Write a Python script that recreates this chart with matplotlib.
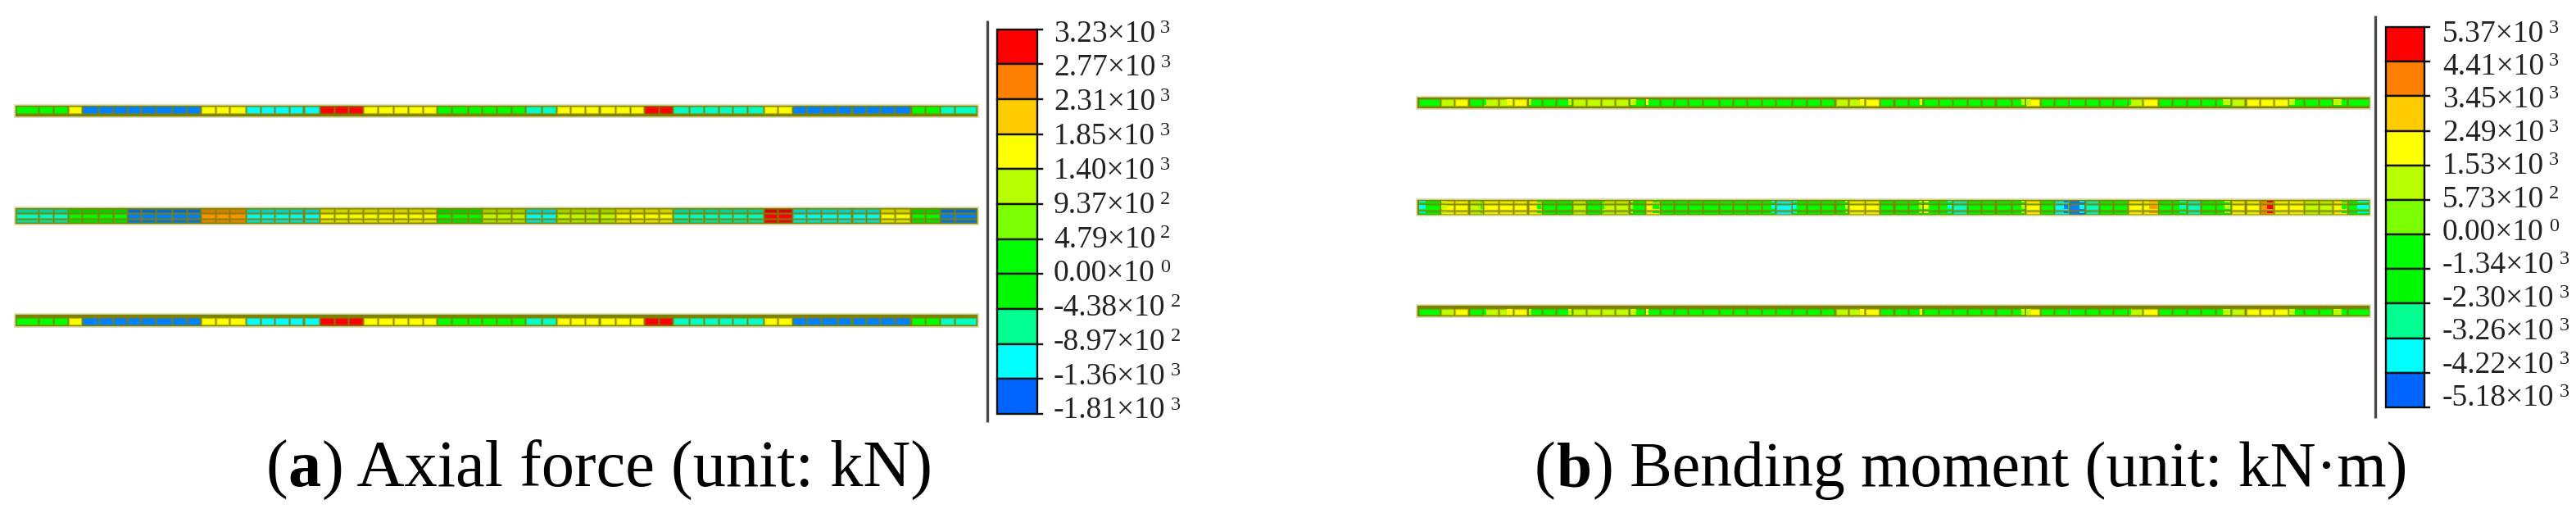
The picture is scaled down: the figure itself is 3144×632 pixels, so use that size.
import matplotlib
matplotlib.use("Agg")
import matplotlib.pyplot as plt
from matplotlib.patches import Rectangle
from matplotlib.colors import to_rgb

plt.rcParams['font.family'] = ['Liberation Serif', 'DejaVu Serif']

# ---------- data ----------
axial_labels = ["3.23×10", "2.77×10", "2.31×10", "1.85×10", "1.40×10", "9.37×10",
                "4.79×10", "0.00×10", "-4.38×10", "-8.97×10", "-1.36×10", "-1.81×10"]
axial_exps = ["3", "3", "3", "3", "3", "2", "2", "0", "2", "2", "3", "3"]
moment_labels = ["5.37×10", "4.41×10", "3.45×10", "2.49×10", "1.53×10", "5.73×10",
                 "0.00×10", "-1.34×10", "-2.30×10", "-3.26×10", "-4.22×10", "-5.18×10"]
moment_exps = ["3", "3", "3", "3", "3", "2", "0", "3", "3", "3", "3", "3"]
legend_colors = ["#ff0000", "#ff8000", "#ffcc00", "#ffff00", "#b8ff00", "#7cff00",
                 "#00ff00", "#00f800", "#00ff90", "#00ffff", "#0064ff"]

# bay lengths along the beams
axial_bays = [70,45,45,43,51,45,44,44,45,50,45,43,46,44,50,46,43,44,45,50,45,44,44,45,50,45,45,44,44,51,44,45,
              45,44,50,45,44,44,45,50,44,44,45,44,51,44,45,45,44,50,45,44,44,45,50,45,45,43,45,49,45,45,45,69]
moment_bays = [71,45,46,45,51,46,46,46,45,51,45,46,46,45,51,46,45,46,46,51,46,45,46,45,52,46,45,46,44,52,46,46,
               46,46,51,44,46,46,45,51,45,47,45,45,52,45,46,46,46,50,46,46,45,46,50,46,46,45,46,51,46,45,46,72]

# per-bay contour classes: B blue, C cyan, T spring green, G green, L lime, Y yellow, O orange, R red
axial_outer = ("GGGY" "BBBBBBBB" "YYY" "CCCCC" "RRR" "YYYYY" "GGGGGG" "TT" "YYYYYY" "RR"
               "TTTTTT" "YY" "BBBBBBBB" "GG" "TT")
axial_middle = ("TTT" "GGGG" "BBBBB" "OOO" "CCCCC" "YYYYYYYY" "GGG" "LLL" "CC" "LLLL" "YYYY"
                "TTTTTT" "RR" "CCCCCC" "YY" "GG" "BB")
moment_outer = ("GLYGLLYGGGLLLLGG" "GGGGGGGGGGGG" "LLYG"
                "GGGGGGGG" "GY" "GGGGGG" "LY" "GGGG" "GLYYY" "GGGGG")
moment_middle = ("GYYLYYYYGGLGLLGY" "GGGGGGG" "GCGGGG" "YYG"
                 "GGGGTGGGGYGCBTGG" "YYGGTGGYYOYYLLYG")
# bay index -> (side, class, share of the bay)
moment_outer_accents = {4: ("l", "G", .2), 5: ("r", "Y", .45), 7: ("l", "L", .25), 9: ("r", "L", .2),
                        14: ("l", "L", .45), 15: ("l", "Y", .2), 29: ("r", "Y", .3), 33: ("r", "Y", .2),
                        40: ("r", "L", .3), 41: ("l", "L", .35), 44: ("l", "C", .08), 48: ("l", "G", .2),
                        54: ("r", "L", .5), 59: ("l", "L", .4), 62: ("l", "L", .6)}
moment_middle_accents = {0: ("l", "C", .35), 1: ("l", "L", .5), 3: ("r", "G", .1), 7: ("r", "G", .3),
                         12: ("l", "G", .2), 14: ("l", "L", .2), 15: ("r", "G", .5), 23: ("r", "C", .3),
                         25: ("l", "C", .3), 28: ("r", "L", .2), 33: ("r", "L", .25), 34: ("l", "Y", .35),
                         35: ("r", "C", .35), 40: ("r", "L", .3), 43: ("r", "B", .3), 44: ("r", "C", .3),
                         49: ("r", "O", .55), 51: ("r", "T", .5), 54: ("r", "L", .4), 57: ("r", "R", .5),
                         62: ("r", "G", .4), 63: ("r", "C", .55)}
axial_title = ("(", "a", ") Axial force (unit: kN)")
moment_title = ("(", "b", ") Bending moment (unit: kN·m)")

assert len(axial_bays) == len(moment_bays) == 64
assert all(len(s) == 64 for s in (axial_outer, axial_middle, moment_outer, moment_middle))

# ---------- styles ----------
CELL = {"B": "#0080ff", "C": "#00ffff", "T": "#00ffc4", "G": "#00ff00", "L": "#c0ff00",
        "Y": "#ffff00", "O": "#ff9800", "R": "#ff0000"}
OLIVE = (0.50, 0.50, 0.0)
HALO = "#dcdca8"
TEXT = "#222222"

W, H = 3144, 632
fig = plt.figure(figsize=(W / 100, H / 100), dpi=100, facecolor="white")
ax = fig.add_axes([0, 0, 1, 1])
ax.set_xlim(0, W)
ax.set_ylim(H, 0)
ax.axis("off")


def shade(c, f):
    return tuple(v * f for v in to_rgb(c))


def mix(c, other, t):
    return tuple(a * (1 - t) + b * t for a, b in zip(to_rgb(c), other))


def beam(x0, x1, pad, unit, bays, y0, y1, rows, classes, accents):
    ax.add_patch(Rectangle((x0, y0), x1 - x0, y1 - y0, fc=OLIVE, ec=HALO, lw=1.2, zorder=1))
    x = x0 + pad
    for n, (bay, cls) in enumerate(zip(bays, classes)):
        w = bay * unit - 2.1
        for off, h, f in rows:
            col = shade(CELL[cls], f)
            ax.add_patch(Rectangle((x, y0 + off), w, h, fc=col, ec=mix(col, OLIVE, .5), lw=.9, zorder=2))
            if n in accents:
                side, c2, share = accents[n]
                aw = w * share
                ax_x = x if side == "l" else x + w - aw
                ax.add_patch(Rectangle((ax_x, y0 + off + .4), aw, h - .8, fc=shade(CELL[c2], f), ec="none", zorder=3))
        x += bay * unit


def legend(line_x, line_y0, line_y1, x0, x1, y0, y1, text_x, base0, base1, labels, exps):
    ax.plot([line_x, line_x], [line_y0, line_y1], color="#484848", lw=2.4, solid_capstyle="butt", zorder=2)
    n = len(legend_colors)
    step = (y1 - y0) / n
    for i, col in enumerate(legend_colors):
        ax.add_patch(Rectangle((x0, y0 + i * step), x1 - x0, step, fc=col, ec="#101010", lw=1.7, zorder=2))
    r = fig.canvas.get_renderer()
    for i, (lab, e) in enumerate(zip(labels, exps)):
        ty = y0 + i * step
        ax.plot([x1, x1 + 6], [ty, ty], color="#101010", lw=1.7, zorder=2)
        by = base0 + (base1 - base0) * i / (len(labels) - 1)
        t = ax.text(text_x, by, lab, fontsize=27, color=TEXT, va="baseline", ha="left")
        w = t.get_window_extent(r).width
        ax.text(text_x + w + 6, by - 11, e, fontsize=17.5, color=TEXT, va="baseline", ha="left")


def caption(x, y, parts, size):
    r = fig.canvas.get_renderer()
    for part, weight in zip(parts, ("normal", "bold", "normal")):
        t = ax.text(x, y, part, fontsize=size, fontweight=weight, color="black", va="baseline", ha="left")
        x += t.get_window_extent(r).width + 1


fig.canvas.draw()

# panel (a)
ua = 1 / 2.529
beam(18, 1194, 2.4, ua, axial_bays, 127.7, 142.7, [(2.3, 8.3, 1)], axial_outer, {})
beam(18, 1194, 2.4, ua, axial_bays, 253.3, 273.7, [(1.7, 4.3, .83), (8, 4.3, .98), (14.7, 3.3, .9)], axial_middle, {})
beam(18, 1194, 2.4, ua, axial_bays, 382.7, 399.3, [(5.7, 7.7, 1)], axial_outer, {})
legend(1205, 25, 515, 1217, 1266, 35.5, 505, 1286, 50.7, 510.5, axial_labels, axial_exps)
caption(324, 593, axial_title, 57.8)

# panel (b)
ub = 1 / 2.613
beam(1729, 2893, 2.6, ub, moment_bays, 118.3, 133.3, [(2.3, 8, 1)], moment_outer, moment_outer_accents)
beam(1729, 2893, 2.6, ub, moment_bays, 242.7, 262.7, [(2, 3, .93), (7.3, 5.7, 1), (15.3, 2.7, .93)], moment_middle, moment_middle_accents)
beam(1729, 2893, 2.6, ub, moment_bays, 371.7, 386.7, [(5, 7.3, 1)], moment_outer, moment_outer_accents)
legend(2899, 19, 510, 2912, 2959, 33, 497, 2981, 50.7, 495, moment_labels, moment_exps)
caption(1873, 593, moment_title, 55.8)

fig.savefig("out.png", dpi=100, facecolor="white")
